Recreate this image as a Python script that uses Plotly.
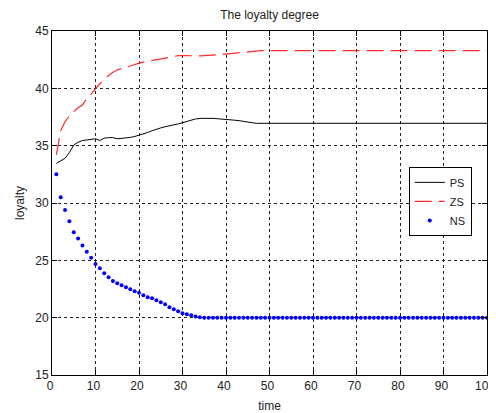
import plotly.graph_objects as go

time = list(range(1, 101))

ps = [33.45, 33.65, 33.9, 34.4, 35.05, 35.3, 35.45, 35.5, 35.55, 35.6,
      35.45, 35.65, 35.7, 35.7, 35.6, 35.62, 35.65, 35.72, 35.8, 35.9,
      36.05, 36.15, 36.3, 36.45, 36.55, 36.65, 36.72, 36.8, 36.9, 37.0,
      37.12, 37.25, 37.33, 37.38, 37.4, 37.4, 37.38, 37.35, 37.33, 37.3,
      37.27, 37.22, 37.18, 37.14, 37.1, 37.0] + [36.95] * 54

zs = [34.2, 36.3, 37.1, 37.6, 37.95, 38.3, 38.55, 39.1, 39.5, 40.0,
      40.4, 40.8, 41.1, 41.4, 41.6, 41.75, 41.85, 41.95, 42.1, 42.2,
      42.28, 42.35, 42.42, 42.5, 42.57, 42.65, 42.72, 42.8, 42.85, 42.85,
      42.83, 42.82, 42.82, 42.83, 42.85, 42.86, 42.9, 42.93, 42.96, 43.0,
      43.03, 43.06, 43.09, 43.12, 43.15, 43.2, 43.25] + [43.28] * 53

ns = [32.5, 30.5, 29.4, 28.4, 27.45, 26.9, 26.3, 25.74, 25.22, 24.68,
      24.32, 23.88, 23.52, 23.2, 23.0, 22.82, 22.65, 22.47, 22.3, 22.18,
      21.95, 21.77, 21.69, 21.52, 21.34, 21.17, 20.91, 20.73, 20.56, 20.38,
      20.3, 20.21, 20.1, 20.03] + [20.0] * 66

x_ticks = [0, 10, 20, 30, 40, 50, 60, 70, 80, 90, 100]
y_ticks = [15, 20, 25, 30, 35, 40, 45]

FONT = "Liberation Sans, Arial, sans-serif"

# page body has an 8px default margin: figure div starts at (8, 8)
W, H = 488, 405

fig = go.Figure()
fig.add_trace(go.Scatter(x=time, y=ps, name="PS", mode="lines",
                         line=dict(color="black", width=1)))
fig.add_trace(go.Scatter(x=time, y=zs, name="ZS", mode="lines",
                         line=dict(color="#ff2a2a", width=1.2, dash="17px,7px")))
fig.add_trace(go.Scatter(x=time, y=ns, name="NS", mode="markers",
                         marker=dict(color="#0000ff", size=4)))

axis_common = dict(
    showline=True, linecolor="black", linewidth=1, mirror="ticks",
    showgrid=True, gridcolor="#222", griddash="3px,3px", gridwidth=1,
    ticks="inside", ticklen=5, tickcolor="black",
    zeroline=False, automargin=False, ticklabeloverflow="allow",
    tickfont=dict(family=FONT, size=12, color="#222"),
)

fig.update_layout(
    width=W, height=H,
    margin=dict(l=44, r=9, t=23, b=38),
    paper_bgcolor="white", plot_bgcolor="white",
    font=dict(family=FONT, color="#222"),
    title=dict(text="The loyalty degree", x=0.5, xanchor="center",
               xref="paper", y=1 - 7 / H, yanchor="middle",
               font=dict(family=FONT, size=12, color="#222")),
    xaxis=dict(range=[0, 100], tickvals=x_ticks, ticklabelshift=-2,
               title=dict(text="time", standoff=9,
                          font=dict(family=FONT, size=12, color="#222")),
               **axis_common),
    yaxis=dict(range=[15, 45], tickvals=y_ticks,
               title=dict(text="loyalty", standoff=8,
                          font=dict(family=FONT, size=12, color="#222")),
               **axis_common),
    legend=dict(x=0.965, xanchor="right", y=0.605, yanchor="top",
                bgcolor="white", bordercolor="black", borderwidth=1,
                font=dict(family=FONT, size=11, color="#222"),
                itemwidth=30, tracegroupgap=0),
    showlegend=True,
)

fig.write_html("out.html")
